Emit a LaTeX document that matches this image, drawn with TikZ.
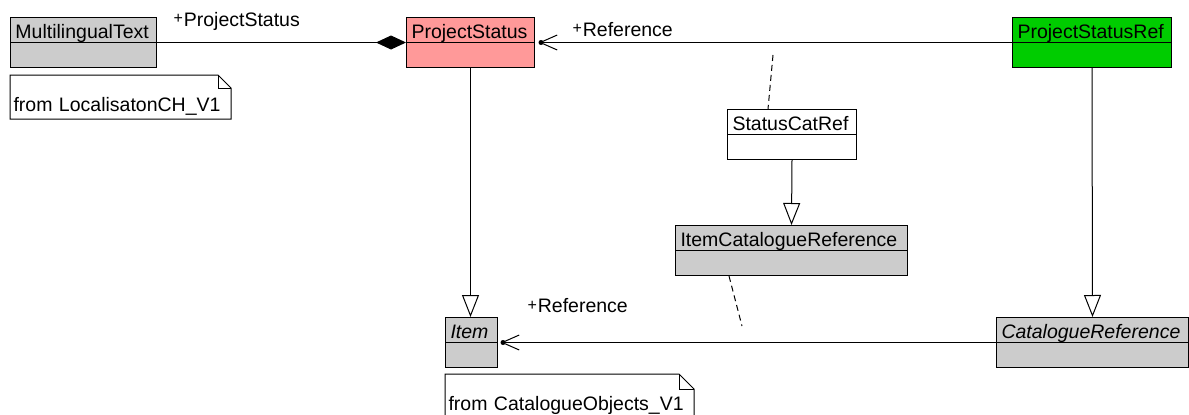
\documentclass[tikz,border=0pt]{standalone}
\usepackage{fontspec}
\setmainfont{Liberation Sans}
\usetikzlibrary{arrows.meta}
\definecolor{classgray}{RGB}{204,204,204}
\definecolor{statuspink}{RGB}{255,153,153}
\definecolor{refgreen}{RGB}{0,204,0}

\begin{document}
\begin{tikzpicture}[x=1pt,y=-1pt,line width=1pt,
    every node/.style={font=\fontsize{19.5}{22}\selectfont},
    umlclass/.style={draw, fill=classgray, anchor=north west, inner xsep=5pt, inner ysep=0pt,
        text height=21pt, text depth=29pt, align=left,
        path picture={\draw (path picture bounding box.west) -- (path picture bounding box.east);}},
    umlnote/.style={anchor=north west, inner xsep=3pt, inner ysep=0pt,
        text height=36pt, text depth=7pt, align=left},
    rolelabel/.style={anchor=base west, inner sep=0pt},
    inherit/.style={-{Triangle[open,length=22pt,width=17pt]}},
    navigable/.style={-{Straight Barb[length=17pt,width=15pt]}},
    compose/.style={{Diamond[length=30pt,width=14pt]}-},
    assoclink/.style={dash pattern=on 6pt off 4pt}]
    \useasboundingbox (0,0) rectangle (1189,415);

    % Classes
    \node (mtext) [umlclass, text width=136pt] at (10,17) {MultilingualText};
    \node (pstatus) [umlclass, fill=statuspink, text width=118pt] at (406,17) {ProjectStatus};
    \node (psref) [umlclass, fill=refgreen, text width=149pt] at (1012,17) {ProjectStatusRef};
    \node (scref) [umlclass, fill=white, text width=119pt] at (727,109) {StatusCatRef};
    \node (icref) [umlclass, text width=222pt] at (675,225) {ItemCatalogueReference};
    \node (item) [umlclass, text width=42pt] at (445,317) {\itshape Item};
    \node (cref) [umlclass, text width=182pt] at (996,317) {\itshape CatalogueReference};

    % Notes
    \node (nloc) [umlnote, text width=214pt] at (10,75) {from LocalisatonCH\_V1};
    \draw (nloc.south west) |- ([xshift=-13pt]nloc.north east)
        -- ([yshift=-13pt]nloc.north east) -- (nloc.south east) -- cycle;
    \draw ([xshift=-13pt]nloc.north east) |- ([yshift=-13pt]nloc.north east);
    \node (ncat) [umlnote, text width=242pt] at (445,374) {from CatalogueObjects\_V1};
    \draw (ncat.south west) |- ([xshift=-15pt]ncat.north east)
        -- ([yshift=-15pt]ncat.north east) -- (ncat.south east) -- cycle;
    \draw ([xshift=-15pt]ncat.north east) |- ([yshift=-15pt]ncat.north east);

    % Associations
    \draw[compose] (pstatus.west) -- (mtext.east)
        node[rolelabel, pos=1, xshift=16pt, yshift=16pt]
        {{\fontsize{16}{16}\selectfont\raisebox{2.5pt}{+}}\hspace{1pt}ProjectStatus};
    \draw[navigable, shorten >=4pt] (psref.west) -- (pstatus.east)
        node[rolelabel, pos=1, xshift=37pt, yshift=6pt]
        {{\fontsize{16}{16}\selectfont\raisebox{2.5pt}{+}}\hspace{1pt}Reference};
    \fill ([xshift=6pt]pstatus.east) circle (2.5pt);
    \draw[navigable, shorten >=3pt] (cref.west) -- (item.east)
        node[rolelabel, pos=1, xshift=29pt, yshift=30pt]
        {{\fontsize{16}{16}\selectfont\raisebox{2.5pt}{+}}\hspace{1pt}Reference};
    \fill ([xshift=5pt]item.east) circle (2.5pt);

    % Association class links
    \coordinate (linkA) at (773,55);
    \draw[assoclink] (linkA) -- ([xshift=41pt]scref.north west);
    \coordinate (linkB) at (742,326);
    \draw[assoclink] ([xshift=54pt]icref.south west) -- (linkB);

    % Generalizations
    \draw[inherit] (pstatus.south) -- (pstatus.south |- item.north);
    \draw[inherit] (scref.south) -- (icref.north);
    \draw[inherit] (psref.south) -- (cref.north);
\end{tikzpicture}
\end{document}
